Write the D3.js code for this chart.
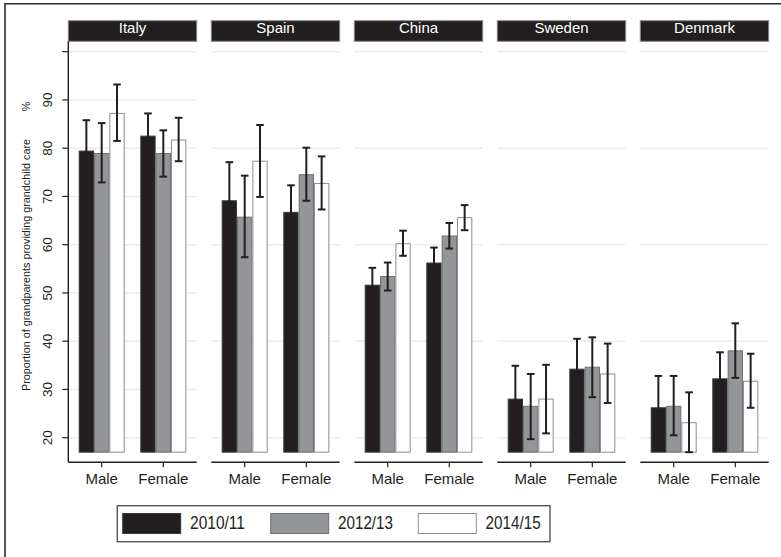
<!DOCTYPE html>
<html>
<head>
<meta charset="utf-8">
<script src="https://cdn.jsdelivr.net/npm/d3@7"></script>
<style>
  html, body { margin: 0; padding: 0; background: #fff; }
  svg { display: block; font-family: "Liberation Sans", Arial, sans-serif; }
</style>
</head>
<body>
<svg id="chart" width="781" height="557"></svg>
<script>
// Grandparents providing grandchild care, by country, sex and survey wave
const countries = ["Italy", "Spain", "China", "Sweden", "Denmark"];
const sexes = ["Male", "Female"];
const waves = ["2010/11", "2012/13", "2014/15"];

// Estimates and 95% CI, ordered country by country: Male, Female
const est2010 = [79.4, 82.5, 69.1, 66.7, 51.6, 56.2, 28.0, 34.2, 26.2, 32.2];
const lo2010  = [73.0, 77.8, 61.1, 61.1, 48.0, 53.0, 21.1, 27.9, 19.6, 26.7];
const hi2010  = [85.8, 87.2, 77.1, 72.3, 55.2, 59.4, 34.9, 40.5, 32.8, 37.7];

const est2012 = [78.9, 78.9, 65.7, 74.5, 53.4, 61.8, 26.5, 34.6, 26.5, 38.0];
const lo2012  = [72.9, 74.1, 57.4, 69.1, 50.5, 59.2, 19.7, 28.4, 20.5, 32.4];
const hi2012  = [85.2, 83.7, 74.3, 80.1, 56.3, 64.5, 33.2, 40.8, 32.8, 43.7];

const est2014 = [87.2, 81.7, 77.3, 72.7, 60.2, 65.6, 28.0, 33.2, 23.1, 31.7];
const lo2014  = [81.5, 77.3, 69.9, 67.3, 57.7, 63.0, 20.9, 27.2, 17.0, 26.2];
const hi2014  = [93.2, 86.3, 84.8, 78.3, 62.9, 68.2, 35.1, 39.5, 29.4, 37.4];

const yTicks = [20, 30, 40, 50, 60, 70, 80, 90, 100];
const yLabels = [20, 30, 40, 50, 60, 70, 80, 90];

const barBase = 17;

const series = [
  { wave: waves[0], est: est2010, lo: lo2010, hi: hi2010 },
  { wave: waves[1], est: est2012, lo: lo2012, hi: hi2012 },
  { wave: waves[2], est: est2014, lo: lo2014, hi: hi2014 }
];

const fills   = { "2010/11": "#231f20", "2012/13": "#939598", "2014/15": "#ffffff" };
const strokes = { "2010/11": "#3a3a3a", "2012/13": "#6f7072", "2014/15": "#8e8e8e" };

const svg = d3.select("#chart");

// outer frame
svg.append("path")
  .attr("d", "M5,560 L5,3.7 L785,3.7")
  .attr("fill", "none").attr("stroke", "#2b2b2b").attr("stroke-width", 1.6);

// layout
const panelLeft = 68.3, panelStep = 143, panelW = 128.4;
const stripTop = 20.7, stripBottom = 41.3;
const plotTop = 41.3, plotBottom = 462.3;

const y = d3.scaleLinear().domain([14.9, 102.15]).range([plotBottom, plotTop]);
const xPanel = d3.scaleBand().domain(countries)
  .range([panelLeft, panelLeft + panelStep * countries.length]).paddingInner(0);
const xSex = d3.scalePoint().domain(sexes).range([0, panelW]).padding(0.542);
const xWave = d3.scaleBand().domain(waves).range([-23, 23]).paddingInner(0);

countries.forEach((country, ci) => {
  const g = svg.append("g").attr("transform", `translate(${xPanel(country)},0)`);

  // gridlines
  const grid = ci === 0 ? yTicks : yTicks.filter(t => t % 20 === 0);
  g.selectAll("line.grid").data(grid).join("line")
    .attr("class", "grid")
    .attr("x1", 0).attr("x2", panelW)
    .attr("y1", d => y(d)).attr("y2", d => y(d))
    .attr("stroke", "#ececec").attr("stroke-width", 1.6);

  // strip
  g.append("rect")
    .attr("x", 0).attr("y", stripTop).attr("width", panelW).attr("height", stripBottom - stripTop)
    .attr("fill", "#231f20").attr("stroke", "#8a8a8a").attr("stroke-width", 1);
  g.append("text")
    .attr("x", panelW / 2).attr("y", 33.4)
    .attr("text-anchor", "middle").attr("fill", "#fff")
    .attr("font-size", 15).text(country);

  // bars
  sexes.forEach((sex, si) => {
    const idx = ci * 2 + si;
    const cx = xSex(sex);
    series.forEach(s => {
      const bx = cx + xWave(s.wave);
      g.append("rect")
        .attr("x", bx + 0.5).attr("y", y(s.est[idx]))
        .attr("width", xWave.bandwidth() - 1)
        .attr("height", y(barBase) - y(s.est[idx]))
        .attr("fill", fills[s.wave]).attr("stroke", strokes[s.wave]).attr("stroke-width", 1);
    });
    series.forEach(s => {
      const mx = cx + xWave(s.wave) + xWave.bandwidth() / 2;
      const eg = g.append("g").attr("stroke", "#231f20").attr("stroke-width", 2);
      eg.append("line").attr("x1", mx).attr("x2", mx)
        .attr("y1", y(s.lo[idx])).attr("y2", y(s.hi[idx]));
      [s.lo[idx], s.hi[idx]].forEach(v => {
        eg.append("line").attr("x1", mx - 3.8).attr("x2", mx + 3.8)
          .attr("y1", y(v)).attr("y2", y(v));
      });
    });
  });

  // x axis
  const xa = g.append("g").attr("transform", `translate(0,${plotBottom})`);
  xa.append("line").attr("x1", 0).attr("x2", panelW).attr("stroke", "#231f20").attr("stroke-width", 1.4);
  sexes.forEach(sex => {
    xa.append("line").attr("x1", xSex(sex)).attr("x2", xSex(sex))
      .attr("y1", 0).attr("y2", 5).attr("stroke", "#231f20").attr("stroke-width", 1.2);
    xa.append("text").attr("x", xSex(sex)).attr("y", 21.7)
      .attr("text-anchor", "middle").attr("font-size", 15).attr("fill", "#231f20").text(sex);
  });
});

// y axis (left panel only)
const ya = svg.append("g").attr("transform", `translate(${panelLeft},0)`);
ya.append("line").attr("y1", plotTop).attr("y2", plotBottom)
  .attr("stroke", "#231f20").attr("stroke-width", 1.4);
ya.selectAll("line.tick").data(yTicks).join("line")
  .attr("class", "tick")
  .attr("x1", -6).attr("x2", 0)
  .attr("y1", d => y(d)).attr("y2", d => y(d))
  .attr("stroke", "#231f20").attr("stroke-width", 1.2);
ya.selectAll("text.tl").data(yLabels).join("text")
  .attr("class", "tl")
  .attr("transform", d => `translate(-16.6,${y(d)}) rotate(-90)`)
  .attr("text-anchor", "middle").attr("font-size", 13.5).attr("fill", "#231f20")
  .text(d => d);

// y title
svg.append("text")
  .attr("transform", "translate(29.5,265) rotate(-90)")
  .attr("text-anchor", "middle").attr("font-size", 10.8).attr("fill", "#231f20")
  .text("Proportion of grandparents providing grandchild care");
svg.append("text")
  .attr("transform", "translate(29.5,106.5) rotate(-90)")
  .attr("text-anchor", "middle").attr("font-size", 10.8).attr("fill", "#231f20")
  .text("%");

// legend
const lg = svg.append("g");
lg.append("rect").attr("x", 117.3).attr("y", 505.7).attr("width", 432.7).attr("height", 36)
  .attr("fill", "#fff").attr("stroke", "#555").attr("stroke-width", 1.4);
const legendX = [122.7, 270.7, 418.3];
waves.forEach((w, i) => {
  lg.append("rect").attr("x", legendX[i]).attr("y", 513.5).attr("width", 58).attr("height", 20)
    .attr("fill", fills[w]).attr("stroke", strokes[w]).attr("stroke-width", 1);
  lg.append("text").attr("x", legendX[i] + 67.3).attr("y", 528.5)
    .attr("font-size", 17.5).attr("fill", "#231f20")
    .attr("textLength", 55).attr("lengthAdjust", "spacingAndGlyphs")
    .text(w);
});
</script>
</body>
</html>
